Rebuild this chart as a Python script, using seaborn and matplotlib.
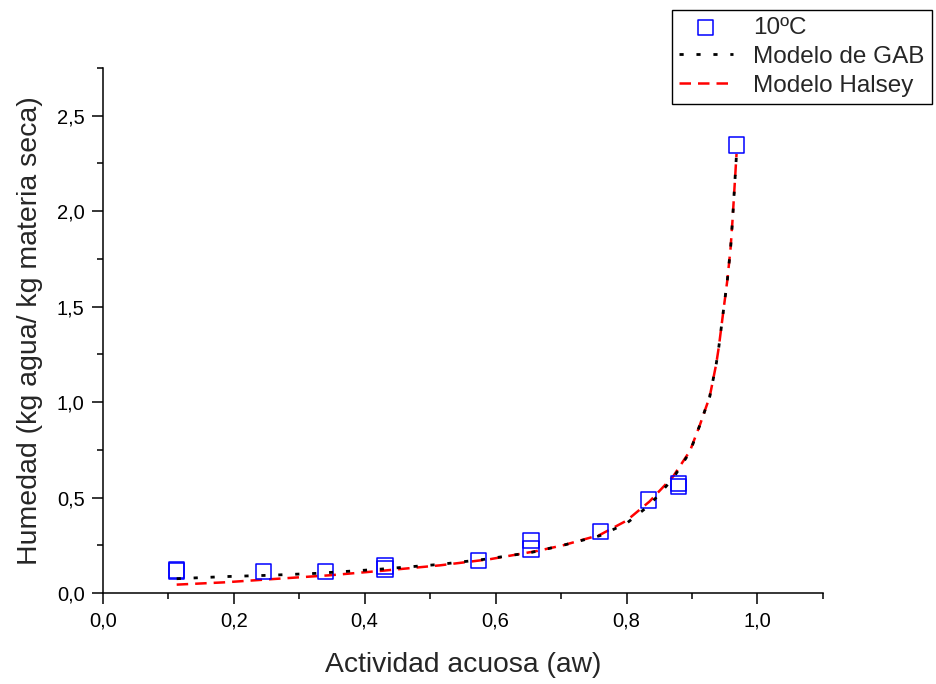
import matplotlib
matplotlib.use("Agg")
import matplotlib.pyplot as plt
from matplotlib.ticker import MultipleLocator, FuncFormatter
import seaborn as sns
import pandas as pd

# Experimental data (10 ºC)
aw_exp = [0.113, 0.113, 0.245, 0.340, 0.431, 0.431, 0.574, 0.654, 0.654, 0.760, 0.834, 0.879, 0.879, 0.968]
m_exp = [0.115, 0.121, 0.114, 0.112, 0.142, 0.126, 0.172, 0.275, 0.231, 0.322, 0.487, 0.572, 0.556, 2.347]

# GAB model curve
aw_gab = [0.113, 0.186, 0.255, 0.326, 0.420, 0.515, 0.584, 0.655, 0.703, 0.759, 0.800, 0.835,
          0.871, 0.897, 0.912, 0.927, 0.937, 0.941, 0.948, 0.954, 0.959, 0.962, 0.965, 0.968]
m_gab = [0.075, 0.086, 0.093, 0.103, 0.124, 0.150, 0.177, 0.213, 0.250, 0.300, 0.365, 0.460,
         0.600, 0.740, 0.880, 1.028, 1.200, 1.290, 1.480, 1.640, 1.810, 1.960, 2.130, 2.300]

# Halsey model curve
aw_hal = [0.113, 0.186, 0.255, 0.347, 0.428, 0.515, 0.591, 0.663, 0.703, 0.759, 0.800, 0.835,
          0.871, 0.897, 0.912, 0.927, 0.937, 0.941, 0.948, 0.954, 0.959, 0.962, 0.965, 0.968]
m_hal = [0.044, 0.056, 0.072, 0.093, 0.117, 0.145, 0.177, 0.220, 0.250, 0.304, 0.379, 0.479,
         0.610, 0.745, 0.880, 1.028, 1.200, 1.290, 1.480, 1.640, 1.810, 1.960, 2.130, 2.300]

sns.set_style("ticks")
plt.rcParams['font.family'] = ['Liberation Sans', 'DejaVu Sans']

fig = plt.figure(figsize=(9.37, 6.84), dpi=100)
ax = fig.add_axes([0.1096, 0.1330, 0.8783 - 0.1096, 0.9006 - 0.1330])

df_exp = pd.DataFrame({"aw": aw_exp, "m": m_exp})
df_gab = pd.DataFrame({"aw": aw_gab, "m": m_gab})
df_hal = pd.DataFrame({"aw": aw_hal, "m": m_hal})

sns.scatterplot(data=df_exp, x="aw", y="m", ax=ax, marker="s", s=120,
                facecolor="none", edgecolor="#0000ff", linewidth=1.1,
                label="10ºC", zorder=3)
sns.lineplot(data=df_gab, x="aw", y="m", ax=ax, color="black", lw=2.0,
             linestyle=(0, (1.5, 4.6)), label="Modelo de GAB", zorder=4)
sns.lineplot(data=df_hal, x="aw", y="m", ax=ax, color="#ff0000", lw=1.8,
             linestyle=(0, (4.6, 2.8)), label="Modelo Halsey", zorder=2)

ax.set_xlim(0, 1.1)
ax.set_ylim(0, 2.75)
ax.xaxis.set_major_locator(MultipleLocator(0.2))
ax.xaxis.set_minor_locator(MultipleLocator(0.1))
ax.yaxis.set_major_locator(MultipleLocator(0.5))
ax.yaxis.set_minor_locator(MultipleLocator(0.25))
fmt = FuncFormatter(lambda v, p: f"{v:.1f}".replace(".", ","))
ax.xaxis.set_major_formatter(fmt)
ax.yaxis.set_major_formatter(fmt)

for sp in ["top", "right"]:
    ax.spines[sp].set_visible(False)
for sp in ["left", "bottom"]:
    ax.spines[sp].set_linewidth(1.1)
    ax.spines[sp].set_color("black")
ax.tick_params(which="major", direction="out", length=8, width=1.1, labelsize=14.5,
               colors="black", pad=5)
ax.tick_params(which="minor", direction="out", length=4.5, width=1.1, colors="black")

ax.set_xlabel("Actividad acuosa (aw)", fontsize=20.3, labelpad=16)
ax.set_ylabel("Humedad (kg agua/ kg materia seca)", fontsize=20.5, labelpad=10)

handles, labels = ax.get_legend_handles_labels()
ax.get_legend().remove()
leg = fig.legend(handles, labels, loc="upper left", bbox_to_anchor=(0.717, 0.986),
                 bbox_transform=fig.transFigure, fontsize=17.5, frameon=True,
                 fancybox=False, edgecolor="black", framealpha=1,
                 borderaxespad=0, borderpad=0.3, labelspacing=0.28,
                 handlelength=2.2, handletextpad=0.85, scatterpoints=1)
leg.get_frame().set_linewidth(1.0)

fig.savefig("out.png", dpi=100)
